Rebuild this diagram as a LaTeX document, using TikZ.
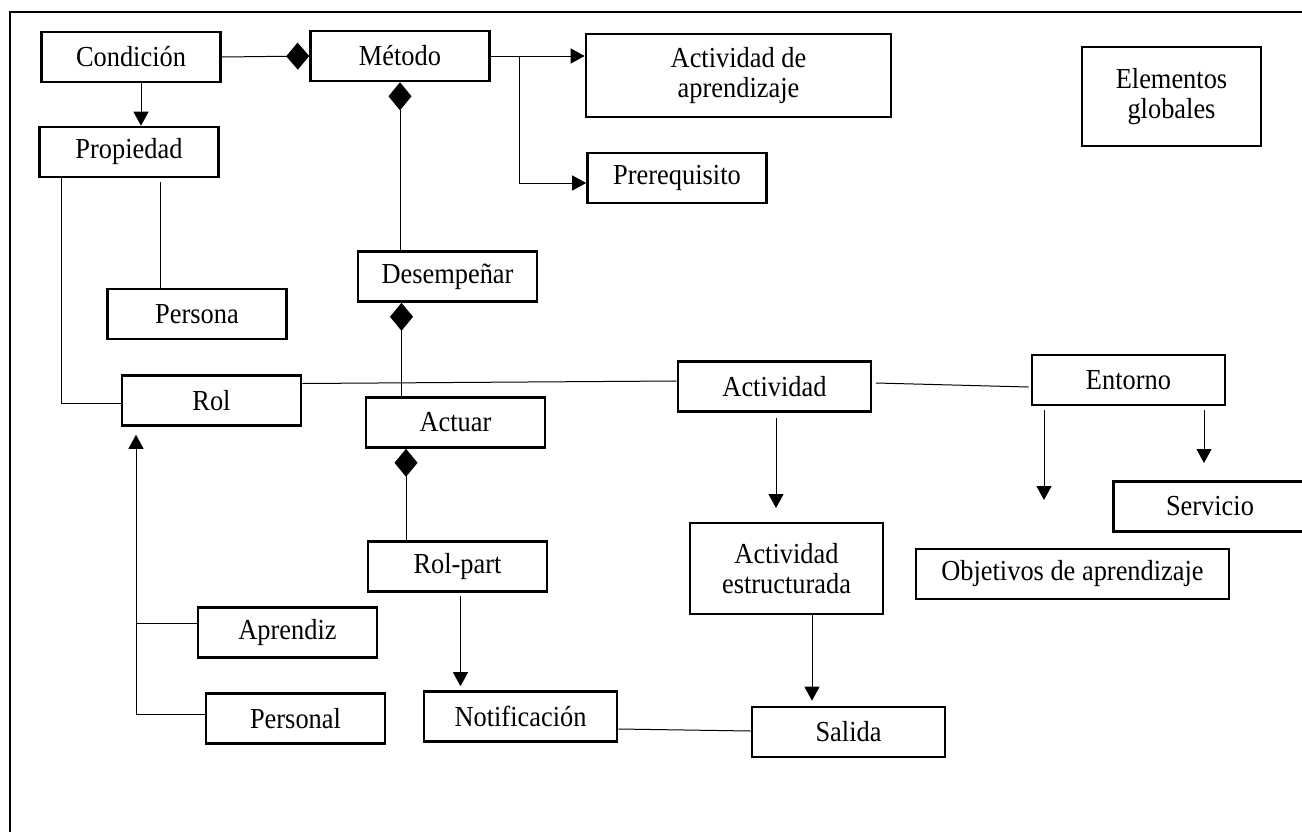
\documentclass[tikz,border=0pt]{standalone}
\usepackage{fontspec}
\setmainfont{Liberation Serif}[FakeStretch=0.91]
\usetikzlibrary{arrows.meta,calc,positioning}

\begin{document}
\begin{tikzpicture}[x=0.5pt,y=-0.5pt,
		caja/.style={draw,line width=1.3pt,minimum width=89.5pt,minimum height=25pt,inner sep=0pt,align=center,font=\fontsize{14.5}{15.4}\selectfont},
		ancha/.style={caja,minimum width=96.5pt},
		enlace/.style={line width=0.5pt},
		flecha/.style={enlace,-{Triangle[length=7pt,width=7.5pt]}},
		rombo h/.style={enlace,-{Diamond[length=11.5pt,width=13.5pt]}},
		rombo v/.style={enlace,-{Diamond[length=14pt,width=11.5pt]}}
		]
		\useasboundingbox (0,0) rectangle (1302,831);
		\draw[line width=1pt] (10,840) -- (10,12) -- (1310,12);

		\node[caja] (condicion) at (131,57) {Condición};
		\node[caja] (metodo) at (400,56) {Método};
		\node[caja,minimum width=152.5pt,minimum height=41.5pt] (actapr) at (738.5,75.5) {Actividad de\\aprendizaje};
		\node[caja,minimum height=49.5pt] (elementos) at (1171.5,96.5) {Elementos\\globales};
		\node[caja] (propiedad) at (129,152) {Propiedad};
		\node[caja] (prerequisito) at (677,178) {Prerequisito};
		\node[caja] (desempenar) at (447.5,276.5) {Desempeñar};
		\node[caja] (persona) at (197,314) {Persona};
		\node[caja] (rol) at (211.5,400.5) {Rol};
		\node[ancha] (actividad) at (774.5,386.5) {Actividad};
		\node[ancha] (entorno) at (1128.5,380) {Entorno};
		\node[caja] (actuar) at (455.5,422.5) {Actuar};
		\node[ancha] (servicio) at (1210,506.5) {Servicio};
		\node[caja] (rolpart) at (457.5,566.5) {Rol-part};
		\node[ancha,minimum height=45.5pt] (actest) at (786.5,568.5) {Actividad\\estructurada};
		\node[caja,minimum width=156.5pt] (objetivos) at (1072.5,574) {Objetivos de aprendizaje};
		\node[caja] (aprendiz) at (287.5,632.5) {Aprendiz};
		\node[caja] (personal) at (295.5,718.5) {Personal};
		\node[ancha] (notificacion) at (520.5,716.5) {Notificación};
		\node[ancha] (salida) at (848.5,732) {Salida};

		\coordinate (rama) at (519,56);
		\coordinate (d1) at ([xshift=-23pt]desempenar.south);
		\coordinate (a1) at ([xshift=-24.75pt]actuar.south);
		\coordinate (c1) at ([xshift=5pt]condicion.south);
		\coordinate (p1) at ([xshift=15.5pt,yshift=-2pt]propiedad.south);
		\coordinate (actfin) at (776,508);
		\coordinate (entA) at (1044,500);
		\coordinate (entB) at (1204,463);
		\coordinate (s1) at ([xshift=12.75pt]actest.south);
		\coordinate (r1) at ([xshift=1.5pt]rolpart.south);
		\coordinate (gen) at (136,714);
		\coordinate (genA) at (136,623);

		\draw[rombo h] (condicion.east) -- (metodo.west);
		\draw[rombo v] (desempenar.north -| metodo.south) -- (metodo.south);
		\draw[rombo v] (d1 |- actuar.north) -- (d1);
		\draw[rombo v] (a1 |- rolpart.north) -- (a1);
		\draw[flecha] (c1) -- (c1 |- propiedad.north);
		\draw[flecha] (metodo.east) -- (metodo.east -| actapr.west);
		\draw[flecha] (rama) |- ([yshift=-2.5pt]prerequisito.west);
		\draw[enlace] ([xshift=-34pt,yshift=1pt]propiedad.south) |- ([yshift=-1.25pt]rol.west);
		\draw[enlace] (p1) -- (p1 |- persona.north);
		\draw[enlace] ([yshift=8.5pt]rol.east) -- ([yshift=2.75pt]actividad.west);
		\draw[enlace] ([xshift=1.75pt,yshift=1.75pt]actividad.east) -- ([xshift=-1pt,yshift=-3.5pt]entorno.west);
		\draw[flecha] (actfin |- actividad.south) ++(0,5) -- (actfin);
		\draw[flecha] (entA |- entorno.south) ++(0,4) -- (entA);
		\draw[flecha] (entB |- entorno.south) ++(0,4) -- (entB);
		\draw[flecha,shorten >=2.5pt] (s1) -- (s1 |- salida.north);
		\draw[flecha,shorten <=1.5pt,shorten >=2pt] (r1) -- (r1 |- notificacion.north);
		\draw[enlace] ([yshift=-6.25pt]notificacion.east) -- ([yshift=0.5pt]salida.west);
		\draw[flecha,shorten >=4pt] (gen) -- (gen |- rol.south);
		\draw[enlace] (genA) -- (genA -| aprendiz.west);
		\draw[enlace] (gen) -- (gen -| personal.west);
\end{tikzpicture}
\end{document}
